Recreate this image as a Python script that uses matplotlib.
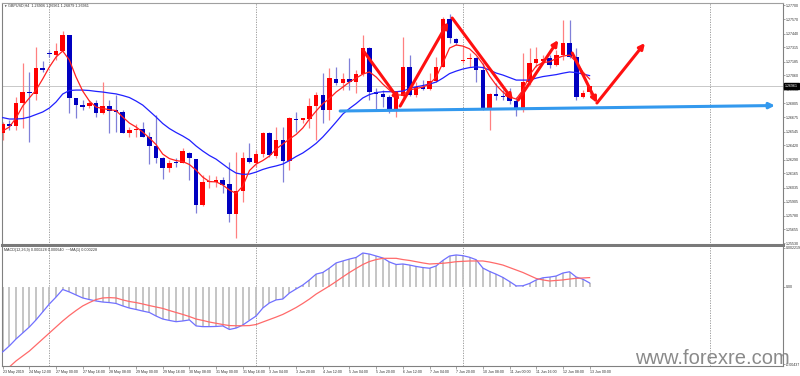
import matplotlib
matplotlib.use('Agg')
import matplotlib.pyplot as plt
import numpy as np
from matplotlib.transforms import blended_transform_factory

plt.rcParams['font.family'] = ['Liberation Sans', 'DejaVu Sans']

# ---------------- data ----------------
symbol_title = "GBPUSD,H4  1.26906 1.26961 1.26879 1.26961"
macd_title = "MACD(12,26,9) 0.000228 0.000640  ~~MA(1) 0.000228"

opens = [1.26536, 1.26612, 1.26597, 1.26804, 1.26910, 1.26889, 1.27123, 1.27260, 1.27244, 1.27284,
         1.27427, 1.26850, 1.26788, 1.26779, 1.26804, 1.26713, 1.26779, 1.26743, 1.26727, 1.26536,
         1.26560, 1.26566, 1.26499, 1.26415, 1.26302, 1.26211, 1.26271, 1.26262, 1.26353, 1.26293,
         1.25876, 1.26086, 1.26088, 1.26104, 1.26068, 1.25791, 1.26004, 1.26308, 1.26257, 1.26339,
         1.26530, 1.26323, 1.26469, 1.26280, 1.26664, 1.26652, 1.26664, 1.26779, 1.26880, 1.26743,
         1.27024, 1.26985, 1.27024, 1.27001, 1.27070, 1.27306, 1.26910, 1.26889, 1.26864, 1.26734,
         1.26870, 1.27132, 1.26880, 1.26955, 1.26934, 1.27010, 1.27137, 1.27570, 1.27388, 1.27192,
         1.27205, 1.27215, 1.27108, 1.26749, 1.26886, 1.26873, 1.26859, 1.26828, 1.26743, 1.27001,
         1.27169, 1.27190, 1.27215, 1.27153, 1.27244, 1.27357, 1.27224, 1.26864, 1.26906]
highs = [1.26636, 1.26652, 1.26864, 1.27171, 1.27092, 1.27317, 1.27192, 1.27290, 1.27354, 1.27463,
         1.27431, 1.26853, 1.26834, 1.26834, 1.26834, 1.27001, 1.26834, 1.26880, 1.26743, 1.26588,
         1.26615, 1.26636, 1.26545, 1.26697, 1.26317, 1.26288, 1.26302, 1.26393, 1.26362, 1.26295,
         1.26150, 1.26150, 1.26141, 1.26135, 1.26268, 1.26362, 1.26362, 1.26442, 1.26378, 1.26545,
         1.26545, 1.26590, 1.26590, 1.26682, 1.26727, 1.26670, 1.26850, 1.26910, 1.27079, 1.27126,
         1.27137, 1.27079, 1.27217, 1.27108, 1.27427, 1.27320, 1.26944, 1.26925, 1.26880, 1.26898,
         1.27411, 1.27244, 1.27001, 1.27016, 1.27079, 1.27229, 1.27593, 1.27618, 1.27399, 1.27320,
         1.27260, 1.27229, 1.27168, 1.26895, 1.26986, 1.26925, 1.26944, 1.26864, 1.27260, 1.27308,
         1.27320, 1.27244, 1.27244, 1.27290, 1.27564, 1.27564, 1.27308, 1.26925, 1.26961]
lows = [1.26469, 1.26560, 1.26560, 1.26579, 1.26454, 1.26834, 1.27092, 1.27226, 1.27199, 1.27275,
        1.26718, 1.26670, 1.26746, 1.26761, 1.26679, 1.26706, 1.26533, 1.26545, 1.26530, 1.26499,
        1.26497, 1.26494, 1.26250, 1.26259, 1.26113, 1.26180, 1.26226, 1.26257, 1.26104, 1.25803,
        1.25870, 1.26031, 1.26043, 1.25983, 1.25722, 1.25575, 1.25907, 1.26259, 1.26226, 1.26317,
        1.26317, 1.26305, 1.26088, 1.26195, 1.26545, 1.26621, 1.26576, 1.26469, 1.26621, 1.26652,
        1.26970, 1.26926, 1.26926, 1.26898, 1.27050, 1.26834, 1.26743, 1.26773, 1.26713, 1.26682,
        1.26859, 1.26870, 1.26864, 1.26925, 1.26925, 1.27001, 1.27135, 1.27353, 1.27336, 1.27168,
        1.27137, 1.27001, 1.26743, 1.26560, 1.26834, 1.26834, 1.26798, 1.26688, 1.26727, 1.26970,
        1.27137, 1.27171, 1.27126, 1.27144, 1.27199, 1.27214, 1.26834, 1.26850, 1.26879]
closes = [1.26615, 1.26597, 1.26809, 1.26910, 1.26895, 1.27123, 1.27108, 1.27254, 1.27284, 1.27427,
          1.26850, 1.26788, 1.26773, 1.26804, 1.26713, 1.26779, 1.26736, 1.26727, 1.26536, 1.26560,
          1.26569, 1.26499, 1.26415, 1.26302, 1.26211, 1.26262, 1.26257, 1.26369, 1.26302, 1.25876,
          1.26083, 1.26098, 1.26104, 1.26059, 1.25791, 1.26004, 1.26308, 1.26271, 1.26339, 1.26530,
          1.26332, 1.26469, 1.26280, 1.26667, 1.26652, 1.26667, 1.26779, 1.26880, 1.26743, 1.27035,
          1.26985, 1.27024, 1.27001, 1.27070, 1.27306, 1.26910, 1.26889, 1.26864, 1.26734, 1.26870,
          1.27132, 1.26880, 1.26955, 1.26934, 1.27010, 1.27137, 1.27570, 1.27397, 1.27353, 1.27199,
          1.27215, 1.27108, 1.26749, 1.26886, 1.26873, 1.26859, 1.26828, 1.26743, 1.27001, 1.27169,
          1.27205, 1.27204, 1.27153, 1.27244, 1.27357, 1.27224, 1.26864, 1.26900, 1.26961]

ma_fast = [1.26551, 1.26588, 1.26670, 1.26779, 1.26853, 1.26925, 1.27026, 1.27135, 1.27226, 1.27281,
           1.27199, 1.27044, 1.26916, 1.26825, 1.26770, 1.26757, 1.26746, 1.26738, 1.26679, 1.26624,
           1.26588, 1.26542, 1.26488, 1.26428, 1.26341, 1.26300, 1.26282, 1.26273, 1.26246, 1.26195,
           1.26131, 1.26090, 1.26088, 1.26059, 1.26013, 1.25983, 1.26049, 1.26191, 1.26250, 1.26282,
           1.26323, 1.26387, 1.26433, 1.26479, 1.26520, 1.26579, 1.26661, 1.26734, 1.26801, 1.26848,
           1.26907, 1.26952, 1.26998, 1.27034, 1.27071, 1.27090, 1.27044, 1.26980, 1.26925, 1.26880,
           1.26880, 1.26925, 1.26939, 1.26952, 1.26980, 1.27044, 1.27171, 1.27308, 1.27336, 1.27326,
           1.27301, 1.27244, 1.27162, 1.27053, 1.26970, 1.26907, 1.26862, 1.26843, 1.26925, 1.27062,
           1.27144, 1.27176, 1.27183, 1.27213, 1.27235, 1.27244, 1.27181, 1.27090, 1.27026]
ma_slow = [1.26674, 1.26661, 1.26661, 1.26665, 1.26679, 1.26702, 1.26725, 1.26761, 1.26816, 1.26889,
           1.26921, 1.26925, 1.26925, 1.26921, 1.26913, 1.26907, 1.26898, 1.26890, 1.26875, 1.26857,
           1.26825, 1.26788, 1.26734, 1.26679, 1.26620, 1.26574, 1.26538, 1.26506, 1.26469, 1.26415,
           1.26369, 1.26328, 1.26295, 1.26250, 1.26205, 1.26168, 1.26156, 1.26159, 1.26177, 1.26201,
           1.26219, 1.26233, 1.26250, 1.26282, 1.26319, 1.26351, 1.26393, 1.26439, 1.26497, 1.26564,
           1.26634, 1.26706, 1.26757, 1.26802, 1.26853, 1.26884, 1.26902, 1.26910, 1.26910, 1.26910,
           1.26916, 1.26939, 1.26955, 1.26966, 1.26980, 1.26998, 1.27034, 1.27075, 1.27098, 1.27117,
           1.27130, 1.27137, 1.27130, 1.27108, 1.27080, 1.27062, 1.27039, 1.27016, 1.27016, 1.27016,
           1.27034, 1.27048, 1.27057, 1.27066, 1.27079, 1.27090, 1.27085, 1.27071, 1.27057]

macd_main = [-0.00367, -0.00333, -0.00294, -0.00260, -0.00226, -0.00186, -0.00141, -0.00096, -0.00057, -0.00014,
             -0.00028, -0.00045, -0.00062, -0.00071, -0.00079, -0.00085, -0.00088, -0.00093, -0.00107, -0.00119,
             -0.00127, -0.00136, -0.00144, -0.00164, -0.00181, -0.00189, -0.00196, -0.00192, -0.00186, -0.00220,
             -0.00224, -0.00224, -0.00223, -0.00220, -0.00240, -0.00232, -0.00215, -0.00189, -0.00164, -0.00119,
             -0.00090, -0.00073, -0.00068, -0.00034, -0.00011, 0.00011, 0.00040, 0.00073, 0.00082, 0.00107,
             0.00136, 0.00147, 0.00158, 0.00167, 0.00192, 0.00186, 0.00175, 0.00164, 0.00141, 0.00127,
             0.00130, 0.00124, 0.00116, 0.00110, 0.00106, 0.00119, 0.00150, 0.00175, 0.00181, 0.00177,
             0.00168, 0.00154, 0.00107, 0.00088, 0.00072, 0.00054, 0.00031, 0.00006, 0.00007, 0.00020,
             0.00040, 0.00052, 0.00056, 0.00062, 0.00079, 0.00086, 0.00056, 0.00044, 0.000228]
macd_signal = [-0.00480, -0.00452, -0.00418, -0.00390, -0.00362, -0.00328, -0.00294, -0.00260, -0.00226, -0.00192,
               -0.00161, -0.00133, -0.00107, -0.00088, -0.00071, -0.00062, -0.00060, -0.00062, -0.00073, -0.00082,
               -0.00088, -0.00096, -0.00105, -0.00113, -0.00121, -0.00133, -0.00144, -0.00155, -0.00167, -0.00181,
               -0.00189, -0.00198, -0.00205, -0.00212, -0.00218, -0.00219, -0.00219, -0.00218, -0.00212, -0.00198,
               -0.00184, -0.00170, -0.00155, -0.00136, -0.00116, -0.00093, -0.00068, -0.00040, -0.00017, 0.00006,
               0.00031, 0.00057, 0.00082, 0.00105, 0.00127, 0.00144, 0.00155, 0.00162, 0.00162, 0.00162,
               0.00155, 0.00150, 0.00143, 0.00136, 0.00130, 0.00132, 0.00134, 0.00138, 0.00143, 0.00145,
               0.00147, 0.00147, 0.00147, 0.00141, 0.00133, 0.00124, 0.00110, 0.00096, 0.00082, 0.00065,
               0.00048, 0.00040, 0.00034, 0.00037, 0.00040, 0.00045, 0.00049, 0.00051, 0.00053]

x_labels = ["23 May 2019", "24 May 12:00", "27 May 00:00", "27 May 16:00", "28 May 08:00",
            "29 May 00:00", "29 May 16:00", "30 May 08:00", "31 May 00:00", "31 May 16:00",
            "3 Jun 04:00", "3 Jun 20:00", "4 Jun 12:00", "5 Jun 04:00", "5 Jun 20:00",
            "6 Jun 12:00", "7 Jun 04:00", "7 Jun 20:00", "10 Jun 08:00", "11 Jun 00:00",
            "11 Jun 16:00", "12 Jun 08:00", "13 Jun 00:00"]
label_step = 4
price_ticks = [1.27700, 1.27570, 1.27440, 1.27315, 1.27185, 1.27060, 1.26930, 1.26805, 1.26675,
               1.26545, 1.26420, 1.26290, 1.26165, 1.26035, 1.25905, 1.25780, 1.25655, 1.25530]
macd_ticks = [0.002219, 0.0, -0.00437]
macd_tick_labels = ["0.002219", "0.00", "-0.00437"]
current_price = 1.26961
separator_bars = [7, 38, 69, 106]

# hand-drawn objects: (bar_start, price_start, bar_end, price_end)
red_arrows = [(54.0, 1.27290, 59.5, 1.26830),
              (59.6, 1.26779, 66.8, 1.27545),
              (67.4, 1.27582, 76.5, 1.26834),
              (77.3, 1.26834, 83.3, 1.27381),
              (85.4, 1.27263, 89.1, 1.26807),
              (89.1, 1.26807, 96.3, 1.27354)]
support_line = (50.6, 1.26734, 115.8, 1.26784)

# ---------------- figure ----------------
W, H = 800, 376
fig = plt.figure(figsize=(W / 100, H / 100), dpi=100)
fig.patch.set_facecolor('white')

def frac(x0, y0, x1, y1):
    return [x0 / W, 1 - y1 / H, (x1 - x0) / W, (y1 - y0) / H]

ax = fig.add_axes(frac(2, 3, 783, 245))
ax2 = fig.add_axes(frac(2, 246.5, 783, 366), sharex=ax)

n = len(opens)
x = np.arange(n)
o = np.array(opens); c = np.array(closes); h = np.array(highs); l = np.array(lows)
up = c >= o

XMIN, XMAX = -0.1, 117.0
ax.set_xlim(XMIN, XMAX)
ax.set_ylim(1.25512, 1.27719)
ax2.set_ylim(-0.004464, 0.002288)

grid_col = '#808080'
for b in separator_bars:
    ax.axvline(b, color='#909090', lw=0.6, ls=(0, (1.5, 1.5)), zorder=1)
    ax2.axvline(b, color='#909090', lw=0.6, ls=(0, (1.5, 1.5)), zorder=1)

ax.axhline(current_price, color='#c8c8c8', lw=0.7, zorder=1)

# candles
ax.vlines(x[up], l[up], h[up], color='#ff8080', lw=0.9, zorder=2)
ax.vlines(x[~up], l[~up], h[~up], color='#8080d8', lw=0.9, zorder=2)
bottoms = np.minimum(o, c)
heights = np.maximum(np.abs(c - o), 0.00004)
ax.bar(x[up], heights[up], bottom=bottoms[up], width=0.68, color='#ff0000', lw=0, zorder=3)
ax.bar(x[~up], heights[~up], bottom=bottoms[~up], width=0.68, color='#0000c0', lw=0, zorder=3)

# moving averages
ax.plot(x, ma_slow, color='#2020ff', lw=0.9, zorder=4)
ax.plot(x, ma_fast, color='#ff2020', lw=0.9, zorder=4)

# drawn objects
for xs, ys, xe, ye in red_arrows:
    ax.annotate('', xy=(xe, ye), xytext=(xs, ys),
                arrowprops=dict(arrowstyle='-|>', color='#ff1010', lw=2.2,
                                mutation_scale=8, shrinkA=0, shrinkB=0), zorder=6)
sx0, sy0, sx1, sy1 = support_line
ax.annotate('', xy=(sx1, sy1), xytext=(sx0, sy0),
            arrowprops=dict(arrowstyle='-|>', color='#3399ee', lw=2.2,
                            mutation_scale=8, shrinkA=0, shrinkB=0), zorder=5)

# MACD panel
m = np.array(macd_main)
ax2.vlines(x, 0, m, color='#c0c0c0', lw=1.3, zorder=2)
ax2.plot(x, macd_main, color='#7070ff', lw=0.9, zorder=3)
ax2.plot(x, macd_signal, color='#ff6a6a', lw=0.9, zorder=3)

# axes styling
for a in (ax, ax2):
    for s in a.spines.values():
        s.set_color(grid_col)
        s.set_linewidth(0.8)
    a.yaxis.tick_right()
    a.tick_params(axis='y', direction='out', length=1.5, width=0.5, colors='#808080',
                  labelsize=2.65, labelcolor='#303030', pad=0.8)
ax.spines['bottom'].set_linewidth(2.2)
ax.spines['bottom'].set_color('#7a7a7a')
ax2.spines['top'].set_visible(False)
ax.spines['top'].set_color('#a0a0a0')

ax.set_yticks(price_ticks)
ax.set_yticklabels(['%.5f' % p for p in price_ticks])
ax2.set_yticks(macd_ticks)
ax2.set_yticklabels(macd_tick_labels)

ax.tick_params(axis='x', bottom=False, labelbottom=False)
tick_pos = list(range(0, n, label_step))[:len(x_labels)]
ax2.set_xticks(tick_pos)
ax2.set_xticklabels(x_labels, ha='left')
ax2.tick_params(axis='x', direction='out', length=2, width=0.5, colors='#808080',
                labelsize=2.6, labelcolor='#303030', pad=1.0)

# current price box
tr = blended_transform_factory(ax.transAxes, ax.transData)
ax.text(1.0025, current_price, '%.5f' % current_price, transform=tr, fontsize=2.65,
        color='white', va='center', ha='left', zorder=10,
        bbox=dict(boxstyle='square,pad=0.2', fc='black', ec='black'))

# titles
fig.text(3 / W, 1 - 6 / H, '\u25BC', fontsize=2.5, color='#404040', va='center', ha='left')
fig.text(8 / W, 1 - 6 / H, symbol_title, fontsize=2.7, color='#303030', va='center', ha='left')
fig.text(4 / W, 1 - 249.5 / H, macd_title, fontsize=2.7, color='#303030', va='center', ha='left')

# watermark
fig.text(790 / W, 1 - 364 / H, 'www.forexre.com', fontsize=14.5, color='#8a8a8a',
         family='Liberation Sans', ha='right', va='baseline')

fig.savefig('out.png', dpi=100, facecolor='white')
